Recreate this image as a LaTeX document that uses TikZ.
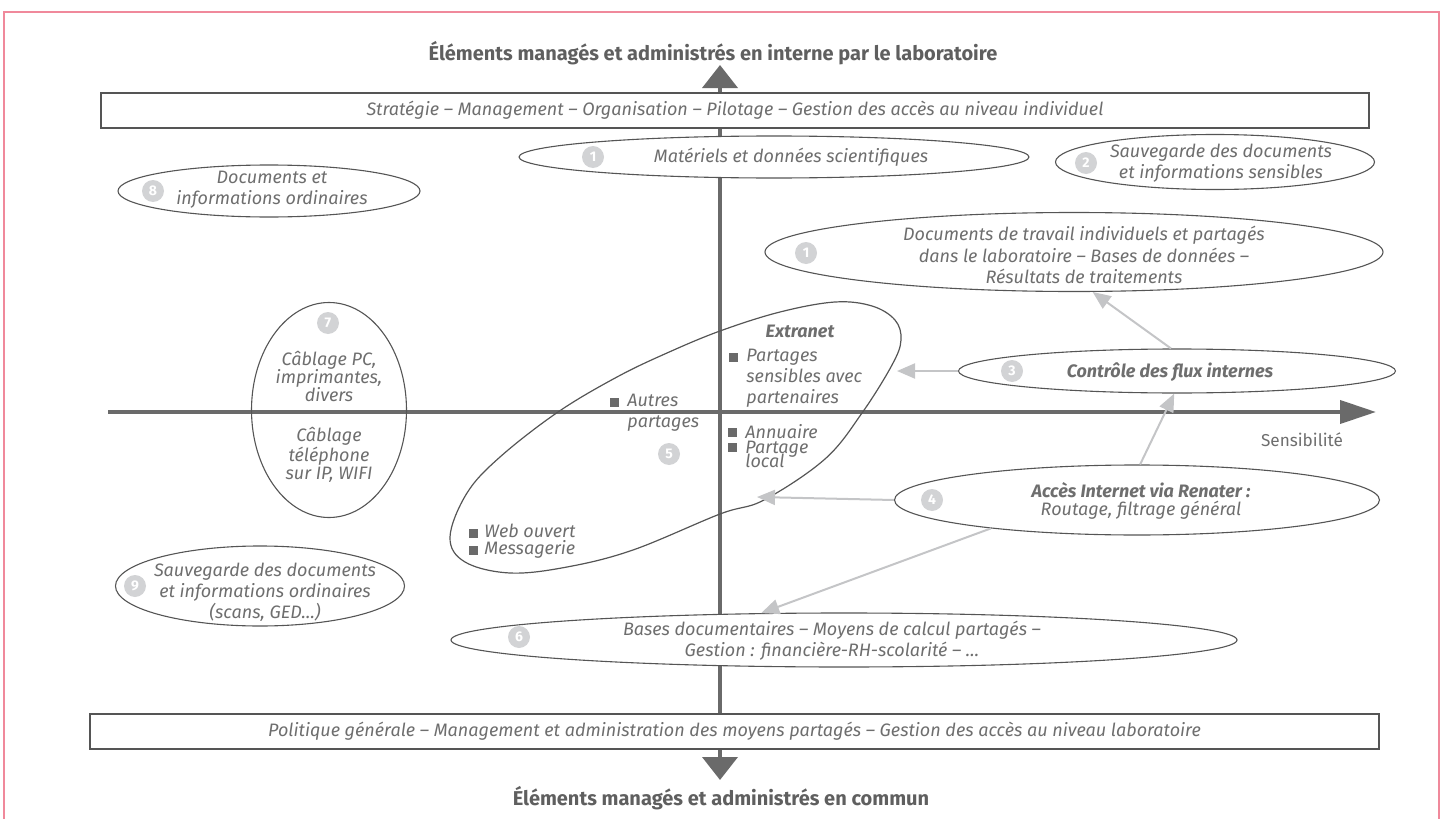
\documentclass[tikz,border=0pt]{standalone}
\usepackage{fontspec}
\setmainfont{Fira Sans}
\usetikzlibrary{arrows.meta}
\usetikzlibrary{shapes.geometric}

\definecolor{axisgray}{HTML}{6A6A6A}
\definecolor{txtgray}{HTML}{6E6E6E}
\definecolor{linegray}{HTML}{555555}
\definecolor{flowgray}{HTML}{C4C5C7}
\definecolor{badgegray}{HTML}{D2D3D5}
\definecolor{framepink}{HTML}{F0899B}

\tikzset{
 oval/.style={ellipse, draw=linegray, line width=0.55pt, fill=white, inner sep=0pt},
 txt/.style={text=txtgray, font=\fontsize{9}{10.6}\selectfont\itshape, align=center, inner sep=0pt},
 band/.style={draw=linegray, line width=0.6pt, fill=white, inner sep=0pt, text=txtgray, font=\fontsize{9}{10.6}\selectfont\itshape},
 badge/.style={circle, fill=badgegray, text=white, font=\fontsize{7}{7}\selectfont\bfseries, minimum size=11pt, inner sep=0pt},
 heading/.style={text=axisgray!90!black, font=\fontsize{10}{11}\selectfont\bfseries, inner sep=0pt},
 item/.style={txt, align=left, anchor=west},
 bullet/.style={fill=axisgray, minimum size=4.5pt, inner sep=0pt},
 axis/.style={draw=axisgray, line width=2pt},
 flow/.style={draw=flowgray, line width=1pt, -{Triangle[length=9pt,width=7.5pt]}},
}

\begin{document}
\begin{tikzpicture}[x=0.5pt,y=-0.5pt]
\useasboundingbox (0,0) rectangle (1448,819);
\draw[framepink, line width=1pt] (4,840) -- (4,12) -- (1439,12) -- (1439,840);

\coordinate (yN) at (720,65);
\coordinate (yS) at (720,780);
\coordinate (xW) at (108,412);
\coordinate (xE) at (1376,412);
\draw[axis, {Triangle[length=11.5pt,width=17.5pt]}-{Triangle[length=11.5pt,width=17.5pt]}] (yS) -- (yN);
\draw[axis, -{Triangle[length=18pt,width=11.5pt]}] (xW) -- (xE);

\node[heading] (ttop) at (713,53) {Éléments managés et administrés en interne par le laboratoire};
\node[heading] (tbot) at (721,798) {Éléments managés et administrés en commun};
\node[text=txtgray, font=\fontsize{8.6}{10}\selectfont, inner sep=0pt] (sens) at (1302,440) {Sensibilité};

\node[band, minimum width=634pt, minimum height=17.5pt] (top) at (735,110.5)
 {Stratégie – Management – Organisation – Pilotage – Gestion des accès au niveau individuel};
\node[band, minimum width=644.5pt, minimum height=17.5pt] (bot) at (734.5,731.5)
 {Politique générale – Management et administration des moyens partagés – Gestion des accès au niveau laboratoire};

\node[oval, minimum width=255pt, minimum height=21pt] (mat) at (774,157) {};
\node[oval, minimum width=159.5pt, minimum height=27.5pt] (save2) at (1215,162) {};
\node[oval, minimum width=151pt, minimum height=26pt] (ord8) at (269,191) {};
\node[oval, minimum width=309pt, minimum height=39.5pt] (docs) at (1074,252) {};
\node[oval, minimum width=218.5pt, minimum height=22pt] (flux) at (1177,371) {};
\node[oval, minimum width=242.5pt, minimum height=35pt] (net) at (1137,500) {};
\node[oval, minimum width=393pt, minimum height=27pt] (calc6) at (844,640) {};
\node[oval, minimum width=144.5pt, minimum height=40pt] (save9) at (260,586) {};
\node[oval, fill=none, minimum width=77.5pt, minimum height=107.5pt] (cable7) at (329,410) {};

\draw[linegray, line width=0.6pt] plot[smooth cycle, tension=0.6] coordinates {
 (450,537) (467,493) (500,457) (558,412) (617,377) (667,353) (720,331) (780,312)
 (835,302) (872,306) (895,320) (901,340) (892,365) (862,413) (825,459) (764,500)
 (720,514) (633,550) (567,567) (510,573) (465,562)};
\coordinate (extraE) at (897,371);
\coordinate (extraS) at (757,497);

\node[txt] (mat-t) at (791,157) {Matériels et données scientifiques};
\node[txt] (save2-t) at (1221,163) {Sauvegarde des documents\\et informations sensibles};
\node[txt] (ord8-t) at (272,190) {Documents et\\informations ordinaires};
\node[txt] (docs-t) at (1084,255) {Documents de travail individuels et partagés\\dans le laboratoire – Bases de données –\\Résultats de traitements};
\node[txt, font=\fontsize{9}{10.6}\selectfont\bfseries\itshape] (flux-t) at (1170,372) {Contrôle des flux internes};
\node[txt, font=\fontsize{9}{9.2}\selectfont\itshape] (net-t) at (1141,501) {\textbf{Accès Internet via Renater :}\\Routage, filtrage général};
\node[txt] (calc6-t) at (832,641) {Bases documentaires – Moyens de calcul partagés –\\Gestion : financière-RH-scolarité – …};
\node[txt] (save9-t) at (265,592) {Sauvegarde des documents\\et informations ordinaires\\(scans, GED…)};
\node[txt, font=\fontsize{9}{9}\selectfont\itshape] (cable7-a) at (329,376) {Câblage PC,\\imprimantes,\\divers};
\node[txt, font=\fontsize{9}{9}\selectfont\itshape] (cable7-b) at (329,455) {Câblage\\téléphone\\sur IP, WIFI};

\node[txt, font=\fontsize{9}{10.6}\selectfont\bfseries\itshape] (extra) at (800,331) {Extranet};
\node[item] (it-part) at (746,378) {Partages\\sensibles avec\\partenaires};
\node[item] (it-loc) at (745,446.5) {Annuaire\\[-3.35pt]Partage\\[-3.35pt]local};
\node[item] (it-autres) at (627,412.5) {Autres\\partages};
\node[item] (it-web) at (484,541.5) {Web ouvert\\[-2.1pt]Messagerie};
\foreach \mx/\my [count=\i] in {733/357,732/432,732/447,614/402,473/533,473/550}
 \node[bullet] (bullet\i) at (\mx,\my) {};

\foreach \bx/\by/\bn [count=\i] in {593/157/1,1086/163/2,153/191/8,806/253/1,1012/371/3,
 932/500/4,669/454/5,519/637/6,328/323/7,135/586/9}
 \node[badge] (badge\i) at (\bx,\by) {\bn};

\draw[flow] (flux.105) -- (docs.-65);
\draw[flow] (flux.west) -- (extraE);
\draw[flow] (net.85) -- (flux.-97);
\draw[flow] (net.west) -- (extraS);
\draw[flow] (net.191) -- (calc6.162);
\end{tikzpicture}
\end{document}
